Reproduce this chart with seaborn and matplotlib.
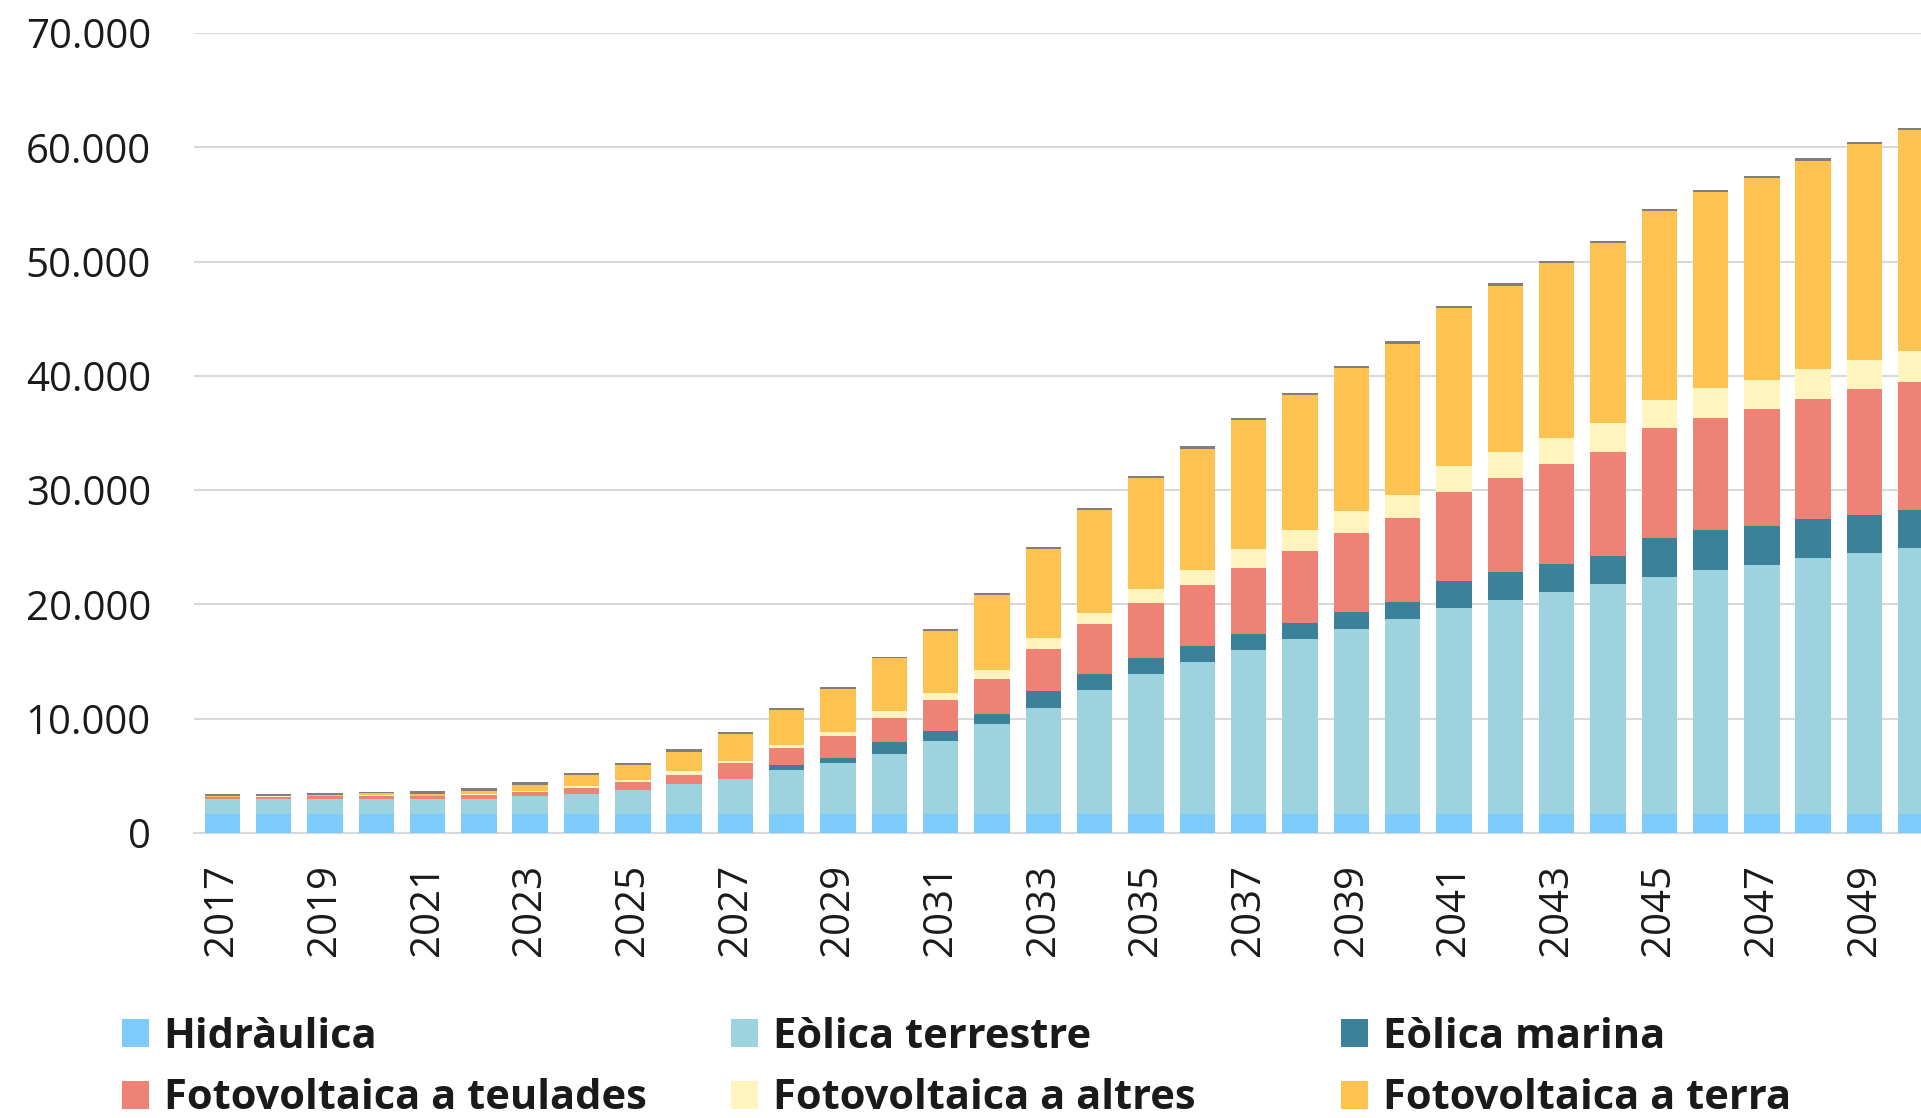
import matplotlib
matplotlib.use('Agg')
import matplotlib.pyplot as plt
import seaborn as sns
from matplotlib.ticker import FuncFormatter

# ==========================================
# Dades (MW instal·lats)
# ==========================================
anys = [str(a) for a in range(2017, 2051)]

hidraulica = [1700, 1700, 1700, 1700, 1700, 1700, 1700, 1700, 1700, 1700,
              1700, 1700, 1700, 1700, 1700, 1700, 1700, 1700, 1700, 1700,
              1700, 1700, 1700, 1700, 1700, 1700, 1700, 1700, 1700, 1700,
              1700, 1700, 1700, 1700]
eolica_terrestre = [1290, 1290, 1290, 1290, 1300, 1300, 1525, 1700, 2080, 2550,
                    3050, 3780, 4400, 5250, 6360, 7810, 9240, 10790, 12190, 13270,
                    14290, 15250, 16190, 17040, 17960, 18700, 19370, 20070, 20740, 21300,
                    21770, 22390, 22800, 23220]
eolica_marina = [0, 0, 0, 0, 0, 0, 0, 0, 0, 0,
                 0, 440, 470, 1000, 870, 870, 1490, 1460, 1460, 1400,
                 1460, 1460, 1480, 1480, 2410, 2410, 2480, 2440, 3410, 3520,
                 3420, 3380, 3300, 3380]
fv_teulades = [180, 200, 230, 290, 200, 350, 380, 560, 670, 850,
               1350, 1500, 1880, 2140, 2680, 3120, 3700, 4310, 4780, 5360,
               5770, 6270, 6850, 7300, 7780, 8260, 8700, 9150, 9560, 9810,
               10190, 10520, 11010, 11130]
fv_altres = [20, 20, 30, 40, 60, 60, 60, 150, 150, 290,
             180, 290, 410, 590, 640, 790, 930, 1020, 1200, 1310,
             1600, 1810, 1960, 2070, 2220, 2260, 2330, 2480, 2520, 2630,
             2560, 2600, 2600, 2720]
fv_terra = [20, 20, 100, 150, 180, 260, 560, 940, 1350, 1730,
            2350, 3020, 3720, 4600, 5420, 6500, 7800, 8950, 9740, 10580,
            11280, 11810, 12520, 13220, 13850, 14560, 15260, 15780, 16480, 17110,
            17650, 18230, 18850, 19380]
altres_renovables = [200, 200, 150, 150, 230, 290, 220, 200, 200, 200,
                     180, 180, 180, 150, 200, 200, 200, 200, 200, 200,
                     200, 200, 200, 200, 200, 200, 200, 200, 200, 200,
                     200, 200, 200, 200]

series = [
    ('Hidràulica', hidraulica, '#7DCBFC'),
    ('Eòlica terrestre', eolica_terrestre, '#9DD3DE'),
    ('Eòlica marina', eolica_marina, '#3A8199'),
    ('Fotovoltaica a teulades', fv_teulades, '#EE8375'),
    ('Fotovoltaica a altres', fv_altres, '#FFF4BE'),
    ('Fotovoltaica a terra', fv_terra, '#FEC250'),
    ('Altres', altres_renovables, '#7F7F7F'),
]

sns.set_style('white')
plt.rcParams['font.family'] = ['Open Sans', 'DejaVu Sans']

fig = plt.figure(figsize=(19.21, 11.18), dpi=100)
ax = fig.add_axes([0.101, 0.2549, 0.911, 0.7156])

bottom = [0] * len(anys)
for nom, valors, color in series:
    sns.barplot(x=anys, y=valors, bottom=bottom, color=color, saturation=1,
                width=0.69, errorbar=None, label=nom, ax=ax, zorder=3,
                linewidth=0, edgecolor='none')
    bottom = [b + v for b, v in zip(bottom, valors)]

# seaborn afegeix una llegenda automàtica; la substituïm per la nostra
handles, labels = ax.get_legend_handles_labels()
if ax.get_legend() is not None:
    ax.get_legend().remove()

ax.set_ylim(0, 70000)
ax.set_xlim(-0.55, 33.55)
ax.set_yticks(range(0, 70001, 10000))
ax.yaxis.set_major_formatter(FuncFormatter(lambda v, p: f"{int(v):,}".replace(',', '.')))
ax.grid(axis='y', color='#D9D9D9', linewidth=1.5, zorder=0)
ax.grid(axis='x', visible=False)
ax.set_axisbelow(True)

ax.set_xticks(range(0, 34, 2))
ax.set_xticklabels(anys[::2], rotation=90)
ax.tick_params(axis='x', length=0, pad=22, labelsize=29, colors='#1a1a1a')
ax.tick_params(axis='y', length=0, pad=31, labelsize=29, colors='#1a1a1a')
ax.set_xlabel('')
ax.set_ylabel('')

for s in ['top', 'right', 'left']:
    ax.spines[s].set_visible(False)
ax.spines['bottom'].set_color('#D9D9D9')
ax.spines['bottom'].set_linewidth(1.5)

# Llegenda en tres columnes
h = dict(zip(labels, handles))
columnes = [
    (0.0635, ['Hidràulica', 'Fotovoltaica a teulades']),
    (0.3805, ['Eòlica terrestre', 'Fotovoltaica a altres']),
    (0.698, ['Eòlica marina', 'Fotovoltaica a terra']),
]
for x, noms in columnes:
    leg = fig.legend([h[n] for n in noms], noms, loc='center left',
                     bbox_to_anchor=(x, 0.0445), frameon=False,
                     borderpad=0, borderaxespad=0, handlelength=0.65,
                     handleheight=0.65, handletextpad=0.35, labelspacing=0.49,
                     prop={'size': 30, 'weight': 'bold'})
    for t in leg.get_texts():
        t.set_color('#1a1a1a')

fig.savefig('out.png', dpi=100)
